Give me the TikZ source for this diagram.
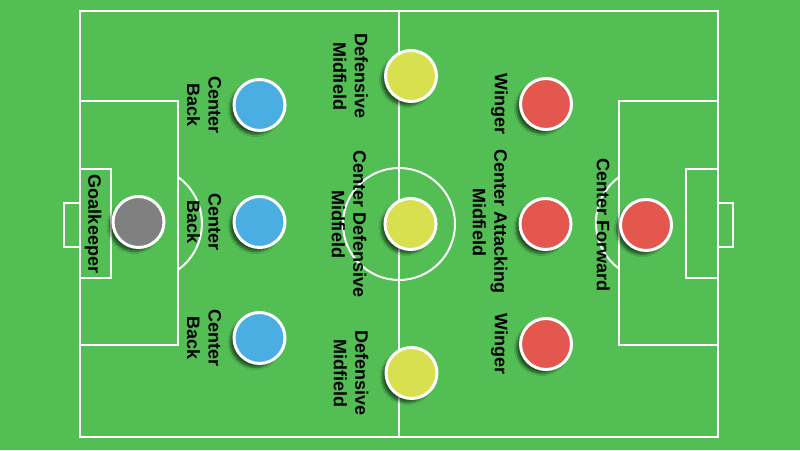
\documentclass[tikz,border=0pt]{standalone}
\usepackage{fontspec}
\setmainfont{Liberation Sans}
\usetikzlibrary{shadows.blur}
\definecolor{pitch}{RGB}{82,190,84}
\definecolor{gkgray}{RGB}{128,128,128}
\definecolor{defblue}{RGB}{75,174,226}
\definecolor{midyellow}{RGB}{217,224,80}
\definecolor{attred}{RGB}{228,87,78}
\tikzset{
  line/.style={white,line width=2pt},
  player/.style={circle,draw=white,line width=3pt,minimum size=51pt,inner sep=0pt,
    blur shadow={shadow xshift=-4pt,shadow yshift=-4pt,shadow blur steps=8,shadow opacity=55}},
  role/.style={rotate=-90,anchor=north,align=center,inner sep=0pt,
    font=\bfseries\fontsize{18}{21.5}\selectfont}
}
\begin{document}
\begin{tikzpicture}[x=1pt,y=-1pt]
\fill [pitch] (0,0) rectangle (800,450);
\useasboundingbox (0,0) rectangle (800,450);

% pitch lines
\draw [line] (80,11) rectangle (718,437);
\draw [line] (399,11)--(399,437);
\draw [line] (399,224) circle (56);
% left end
\draw [line] (80,101) rectangle (178,345);
\draw [line] (80,169) rectangle (111,278);
\draw [line] (80,203)--(64,203)--(64,247)--(80,247);
\draw [line] (178,177) arc[start angle=-54.5,end angle=54.5,radius=57];
% right end
\draw [line] (619,101) rectangle (718,345);
\draw [line] (686,169) rectangle (718,278);
\draw [line] (718,203)--(733,203)--(733,247)--(718,247);
\draw [line] (619,177) arc[start angle=233.5,end angle=126.5,radius=57];

% players
\node [player,fill=gkgray] (gk) at (138.5,222) {};
\node [player,fill=defblue] (cbtop) at (259.5,105) {};
\node [player,fill=defblue] (cbmid) at (259.5,222) {};
\node [player,fill=defblue] (cbbot) at (259.5,338) {};
\node [player,fill=midyellow] (dmtop) at (411,76) {};
\node [player,fill=midyellow] (cdm) at (410.5,224) {};
\node [player,fill=midyellow] (dmbot) at (411.5,373) {};
\node [player,fill=attred] (wtop) at (546,104) {};
\node [player,fill=attred] (cam) at (545.5,224) {};
\node [player,fill=attred] (wbot) at (546,344) {};
\node [player,fill=attred] (cf) at (646,225) {};

% roles
\node [role] (gklabel) at ([xshift=-10pt,yshift=-2pt]gk.west) {Goalkeeper};
\node [role] (cbtoplabel) at ([xshift=-11pt]cbtop.west) {Center\\Back};
\node [role] (cbmidlabel) at ([xshift=-11pt]cbmid.west) {Center\\Back};
\node [role] (cbbotlabel) at ([xshift=-11pt]cbbot.west) {Center\\Back};
\node [role] (dmtoplabel) at ([xshift=-16pt]dmtop.west) {Defensive\\Midfield};
\node [role] (cdmlabel) at ([xshift=-17pt]cdm.west) {Center Defensive\\Midfield};
\node [role] (dmbotlabel) at ([xshift=-16pt]dmbot.west) {Defensive\\Midfield};
\node [role] (wtoplabel) at ([xshift=-11pt]wtop.west) {Winger};
\node [role] (camlabel) at ([xshift=-11pt,yshift=2pt]cam.west) {Center Attacking\\Midfield};
\node [role] (wbotlabel) at ([xshift=-11pt]wbot.west) {Winger};
\node [role] (cflabel) at ([xshift=-9pt]cf.west) {Center Forward};
\end{tikzpicture}
\end{document}
